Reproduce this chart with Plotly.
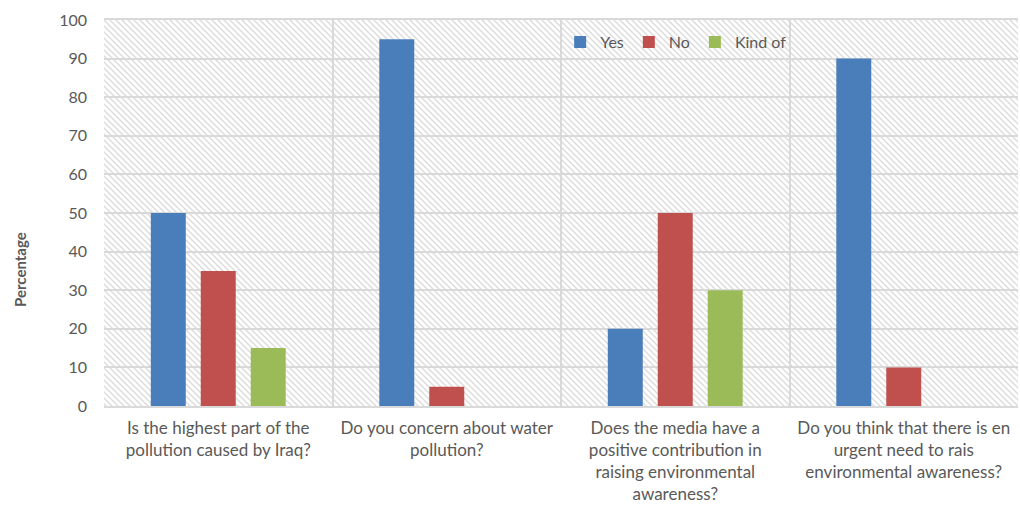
import plotly.graph_objects as go
import urllib.parse

# Survey questions (x categories)
questions = [
    "Is the highest part of the<br>pollution caused by Iraq?",
    "Do you concern about water<br>pollution?",
    "Does the media have a<br>positive contribution in<br>raising environmental<br>awareness?",
    "Do you think that there is en<br>urgent need to rais<br>environmental awareness?",
]

# Answer shares in percent
yes_vals = [50, 95, 20, 90]
no_vals = [35, 5, 50, 10]
kind_of_vals = [15, 0, 30, 0]

series = [
    ("Yes", yes_vals, "#4a7ebb"),
    ("No", no_vals, "#c0504d"),
    ("Kind of", kind_of_vals, "#9bbb59"),
]

FONT = "Lato, 'Open Sans', sans-serif"
TEXT = "#595959"
GRID = "#d9d9d9"

W, H = 1020, 507
M = dict(l=104, r=2, t=20, b=101)
pw, ph = W - M["l"] - M["r"], H - M["t"] - M["b"]

# Diagonal hatch used as the plot-area fill
step = 6
hatch_svg = (
    f"<svg xmlns='http://www.w3.org/2000/svg' width='{pw}' height='{ph}' viewBox='0 0 {pw} {ph}'>"
    f"<defs><pattern id='h' patternUnits='userSpaceOnUse' width='{step}' height='{step}'>"
    f"<rect width='{step}' height='{step}' fill='white'/>"
    f"<path d='M-1,-1 L{step+1},{step+1} M{-step-1},-1 L1,{step+1} M{step-1},-1 L{2*step+1},{step+1}' "
    f"stroke='#dcdcdc' stroke-width='1.4'/></pattern></defs>"
    f"<rect width='{pw}' height='{ph}' fill='url(#h)'/></svg>"
)
hatch_uri = "data:image/svg+xml;charset=utf-8," + urllib.parse.quote(hatch_svg)

fig = go.Figure()
for name, vals, color in series:
    fig.add_trace(go.Bar(
        name=name, x=questions, y=vals,
        marker=dict(color=color, line=dict(width=0)),
    ))

fig.update_layout(
    width=W, height=H,
    margin=M,
    barmode="group",
    bargap=0.344,
    bargroupgap=0.3,
    paper_bgcolor="white",
    plot_bgcolor="rgba(0,0,0,0)",
    font=dict(family=FONT, size=16, color=TEXT),
    images=[dict(
        source=hatch_uri, xref="paper", yref="paper",
        x=0, y=1, sizex=1, sizey=1, sizing="stretch",
        xanchor="left", yanchor="top", layer="below",
    )],
    legend=dict(
        orientation="h", x=0.626, y=0.943, xanchor="center", yanchor="middle",
        bgcolor="rgba(255,255,255,0)", font=dict(size=16, color=TEXT),
        itemwidth=30, traceorder="normal",
    ),
    xaxis=dict(
        tickson="boundaries", showgrid=True, gridcolor=GRID, gridwidth=1.5,
        showline=True, linecolor=GRID, linewidth=1.5, mirror=True,
        ticks="", ticklabelstandoff=6, tickfont=dict(size=17, color=TEXT),
    ),
    yaxis=dict(
        range=[0, 100], dtick=10, showgrid=True, gridcolor=GRID, gridwidth=1.5,
        zeroline=False, showline=False, ticks="",
        ticklabelstandoff=16, tickfont=dict(size=16, color=TEXT),
    ),
    annotations=[dict(
        text="<b>Percentage</b>", xref="paper", yref="paper",
        x=(20 - M["l"]) / pw, y=(H - M["b"] - 270) / ph,
        xanchor="center", yanchor="middle", textangle=-90, showarrow=False,
        font=dict(size=15, color=TEXT),
    )],
)

fig.write_html("out.html")
